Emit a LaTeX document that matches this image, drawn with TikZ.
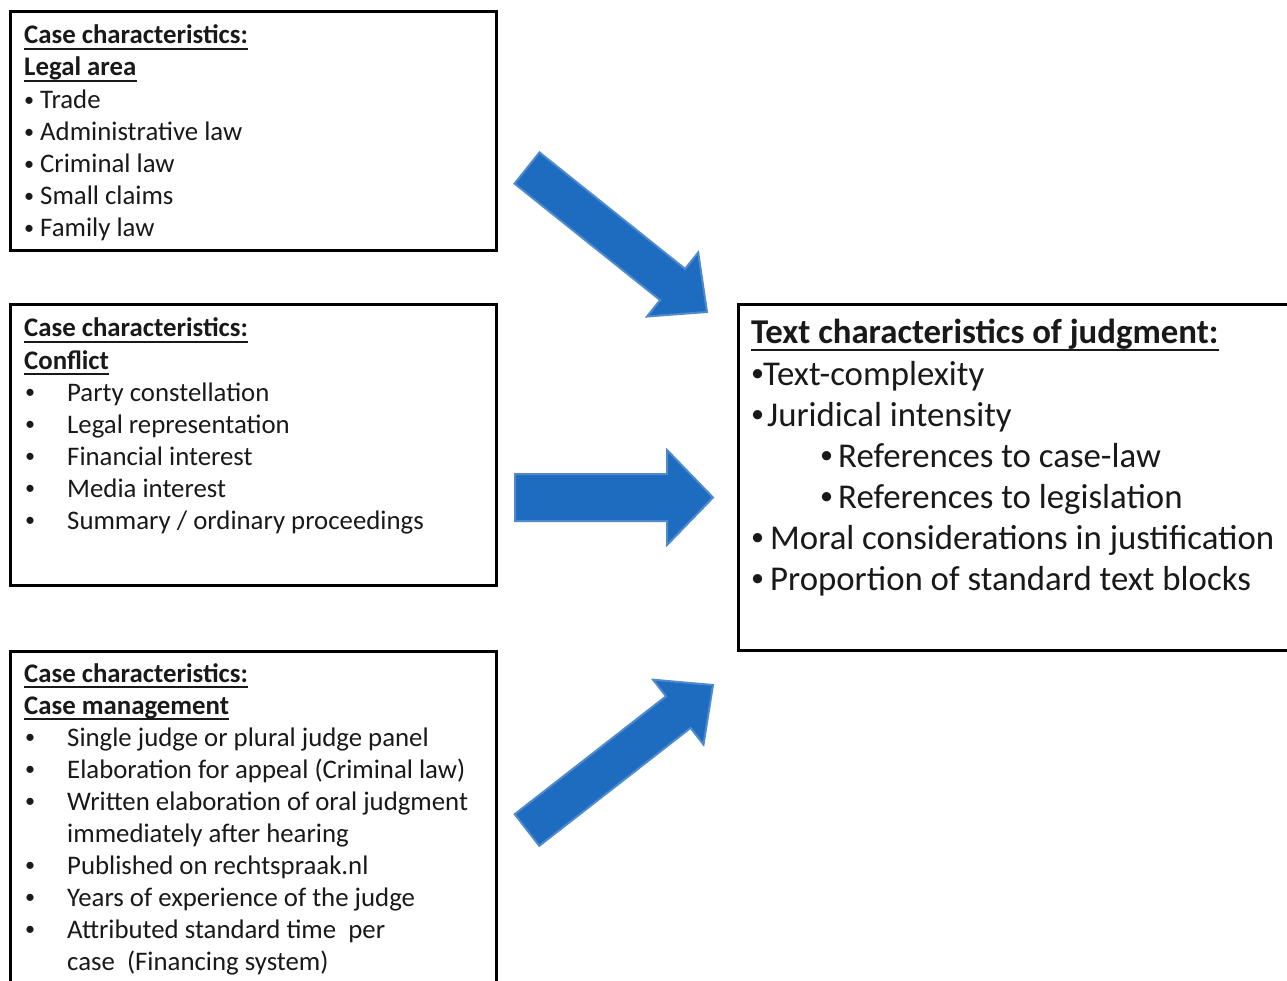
\documentclass[tikz,border=0pt]{standalone}
\usepackage{fontspec}
\setmainfont{Carlito}
\definecolor{arrowfill}{RGB}{30,108,192}
\definecolor{arrowedge}{RGB}{78,138,204}
\definecolor{txt}{RGB}{25,25,25}
\tikzset{
  boxline/.style={line width=3pt, draw=black},
  ln/.style={anchor=base west, inner sep=0pt, text=txt, font=\fontsize{26.8}{32}\selectfont},
  lnb/.style={anchor=base west, inner sep=0pt, text=txt, font=\fontsize{26.8}{32}\selectfont\bfseries},
  lnbig/.style={anchor=base west, inner sep=0pt, text=txt, font=\fontsize{34.8}{41}\selectfont},
  uline/.style={line width=1.8pt, draw=txt},
  blockarrow/.style={fill=arrowfill, draw=arrowedge, line width=2pt, line join=miter}
}
\newcommand{\bl}[1]{\makebox[#1][l]{\raisebox{0.1em}{\scalebox{0.75}{•}}}}
\begin{document}
\begin{tikzpicture}[x=1pt,y=-1pt]
\useasboundingbox (0,0) rectangle (1287,981);
\fill[white] (0,0) rectangle (1287,981);

% boxes
\draw[boxline] (10,12) rectangle (496,251);
\draw[boxline] (10,305) rectangle (496,585);
\draw[boxline] (10,995) -- (10,651) -- (496,651) -- (496,995);
\draw[boxline] (1300,305) -- (738,305) -- (738,650) -- (1300,650);

% box 1
\node[lnb] (a0) at (24,44) {Case characteristics:};
\node[lnb] (a1) at (24,76) {Legal area};
\draw[uline] ([yshift=-5pt]a0.base west) -- ([yshift=-5pt]a0.base east);
\draw[uline] ([yshift=-5pt]a1.base west) -- ([yshift=-5pt]a1.base east);
\node[ln] (a2) at (24,109) {\bl{16pt}Trade};
\node[ln] (a3) at (24,141) {\bl{16pt}Administrative law};
\node[ln] (a4) at (24,173) {\bl{16pt}Criminal law};
\node[ln] (a5) at (24,205) {\bl{16pt}Small claims};
\node[ln] (a6) at (24,237) {\bl{16pt}Family law};

% box 2
\node[lnb] (b0) at (24,337) {Case characteristics:};
\node[lnb] (b1) at (24,369) {Conflict};
\draw[uline] ([yshift=-5pt]b0.base west) -- ([yshift=-5pt]b0.base east);
\draw[uline] ([yshift=-5pt]b1.base west) -- ([yshift=-5pt]b1.base east);
\node[ln] (b2) at (25,401) {\bl{42pt}Party constellation};
\node[ln] (b3) at (25,433) {\bl{42pt}Legal representation};
\node[ln] (b4) at (25,465) {\bl{42pt}Financial interest};
\node[ln] (b5) at (25,497) {\bl{42pt}Media interest};
\node[ln] (b6) at (25,529) {\bl{42pt}Summary / ordinary proceedings};

% box 3
\node[lnb] (c0) at (24,682) {Case characteristics:};
\node[lnb] (c1) at (24,714) {Case management};
\draw[uline] ([yshift=-5pt]c0.base west) -- ([yshift=-5pt]c0.base east);
\draw[uline] ([yshift=-5pt]c1.base west) -- ([yshift=-5pt]c1.base east);
\node[ln] (c2) at (25,746) {\bl{42pt}Single judge or plural judge panel};
\node[ln] (c3) at (25,778) {\bl{42pt}Elaboration for appeal (Criminal law)};
\node[ln] (c4) at (25,810) {\bl{42pt}Written elaboration of oral judgment};
\node[ln] (c5) at (67,842) {immediately after hearing};
\node[ln] (c6) at (25,874) {\bl{42pt}Published on rechtspraak.nl};
\node[ln] (c7) at (25,906) {\bl{42pt}Years of experience of the judge};
\node[ln] (c8) at (25,938) {\bl{42pt}Attributed standard time \ per};
\node[ln] (c9) at (67,970) {case \ (Financing system)};

% right box
\node[lnbig, font=\fontsize{34.8}{41}\selectfont\bfseries] (d0) at (751,344) {Text characteristics of judgment:};
\draw[uline, line width=2.2pt] ([yshift=-6pt]d0.base west) -- ([yshift=-6pt]d0.base east);
\node[lnbig] (d1) at (751,385) {\bl{12pt}Text-complexity};
\node[lnbig] (d2) at (751,426) {\bl{16pt}Juridical intensity};
\node[lnbig] (d3) at (820,467) {\bl{18pt}References to case-law};
\node[lnbig] (d4) at (820,508) {\bl{18pt}References to legislation};
\node[lnbig] (d5) at (751,549) {\bl{19pt}Moral considerations in justification};
\node[lnbig] (d6) at (751,590) {\bl{19pt}Proportion of standard text blocks};

% block arrows
\draw[blockarrow] (539.5,152.4) -- (685.1,268.9) -- (698.2,252.5) -- (707,312)
  -- (647.0,316.5) -- (660.1,300.1) -- (514.5,183.6) -- cycle;
\draw[blockarrow] (515,474) -- (667,474) -- (667,450) -- (713,497.5)
  -- (667,545) -- (667,521) -- (515,521) -- cycle;
\draw[blockarrow] (514.7,814.2) -- (666.0,696.3) -- (653.1,679.7) -- (713,685)
  -- (703.5,744.5) -- (690.6,727.9) -- (539.3,845.8) -- cycle;
\end{tikzpicture}
\end{document}
